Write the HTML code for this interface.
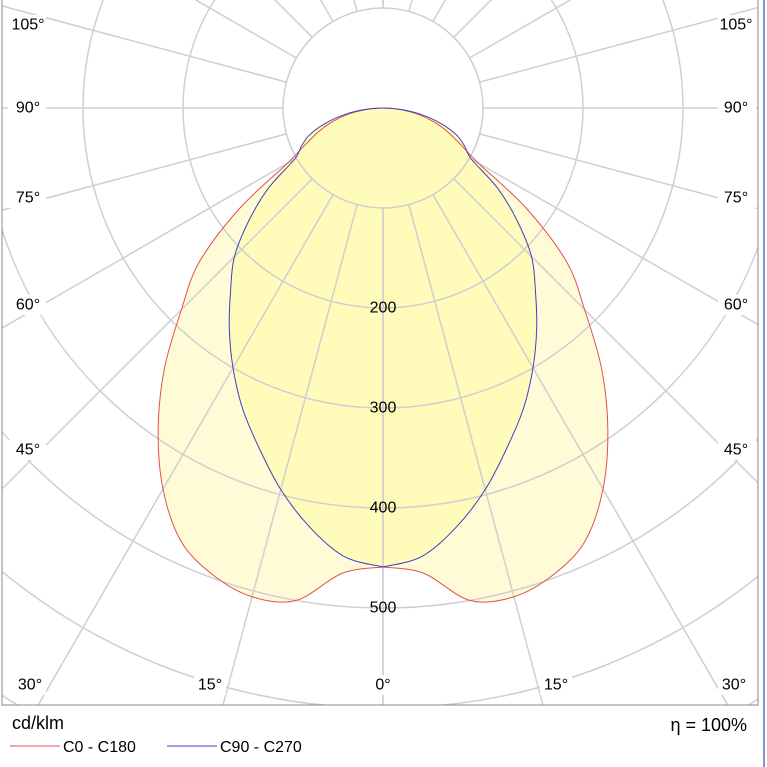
<!DOCTYPE html>
<html><head><meta charset="utf-8"><style>
html,body{margin:0;padding:0;background:#fff;font-family:"Liberation Sans",sans-serif;width:767px;height:767px;overflow:hidden;}
svg{display:block;}
svg text{font-family:"Liberation Sans",sans-serif;}
</style></head><body>
<svg width="767" height="767" viewBox="0 0 767 767">
<defs><clipPath id="pc"><rect x="2" y="0" width="756" height="705"/></clipPath></defs>
<g id="fills" clip-path="url(#pc)"></g>
<g id="grid" clip-path="url(#pc)"></g>
<g id="lines" clip-path="url(#pc)"></g>
<g id="labels"></g>
<rect x="2" y="-2" width="756" height="707" fill="none" stroke="#888" stroke-width="1"/>
<line x1="764" y1="0" x2="764" y2="767" stroke="#5a6fc4" stroke-width="1.5"/>
<text x="12" y="729" font-size="18">cd/klm</text>
<text x="747" y="731" font-size="18" text-anchor="end">η = 100%</text>
<line x1="10" y1="746" x2="60" y2="746" stroke="#e05050" stroke-width="1"/>
<text x="63" y="752" font-size="16">C0 - C180</text>
<line x1="167" y1="746" x2="217" y2="746" stroke="#4040c0" stroke-width="1"/>
<text x="220" y="752" font-size="16">C90 - C270</text>
</svg>
<script>
const angles=[0,5,10,15,20,25,30,35,40,45,50,55,60,65,70,75,80,85,90];
const c0c180=[459,467,500,506,497,478,440,392,340,285,240,175,110,85,68,52,35,17,0];
const c90c270=[459,450,425,395,362,332,300,268,237,210,175,140,102,90,78,60,40,20,0];
const ringValues=[100,200,300,400,500,600,700,800];
const ringLabels=["200","300","400","500"];
const spokeAngles=[0,15,30,45,60,75,90,105,120,135,150,165,180];
const NS="http://www.w3.org/2000/svg";
const cx=383,cy=108;
function px(a,r,side){return cx+side*r*Math.sin(a*Math.PI/180);}
function py(a,r){return cy+r*Math.cos(a*Math.PI/180);}
function mk(t,attrs,parent){const e=document.createElementNS(NS,t);for(const k in attrs)e.setAttribute(k,attrs[k]);document.getElementById(parent).appendChild(e);return e;}
function pathFor(vals){
  let pts=[];
  for(let i=0;i<angles.length;i++)pts.push([px(angles[i],vals[i],1),py(angles[i],vals[i])]);
  for(let i=angles.length-2;i>=0;i--)pts.push([px(angles[i],vals[i],-1),py(angles[i],vals[i])]);
  let d="M"+pts[0][0]+","+pts[0][1];
  for(let i=0;i<pts.length-1;i++){
    const p0=pts[Math.max(0,i-1)],p1=pts[i],p2=pts[i+1],p3=pts[Math.min(pts.length-1,i+2)];
    const c1=[p1[0]+(p2[0]-p0[0])/6,p1[1]+(p2[1]-p0[1])/6];
    const c2=[p2[0]-(p3[0]-p1[0])/6,p2[1]-(p3[1]-p1[1])/6];
    d+=" C"+c1[0]+","+c1[1]+" "+c2[0]+","+c2[1]+" "+p2[0]+","+p2[1];
  }
  return d+"Z";
}
let f1=mk("path",{d:pathFor(c0c180),fill:"#fffbd6",stroke:"none"},"fills");


let f2=mk("path",{d:pathFor(c90c270),fill:"#fffbb8",stroke:"none","fill-opacity":"0.9"},"fills");


ringValues.forEach(r=>{
  let c=mk("circle",{cx:cx,cy:cy,r:r,fill:"none",stroke:"#cfcfcf","stroke-width":"1.5"},"grid");
  
  
});
spokeAngles.forEach(a=>{[1,-1].forEach(s=>{
  let l=mk("line",{x1:px(a,100,s),y1:py(a,100),x2:px(a,1200,s),y2:py(a,1200),stroke:"#cfcfcf","stroke-width":"1.5"},"grid");
  
  
});});
let l1=mk("path",{d:pathFor(c0c180),fill:"none",stroke:"#e05050","stroke-width":"1"},"lines");


let l2=mk("path",{d:pathFor(c90c270),fill:"none",stroke:"#4040c0","stroke-width":"1"},"lines");


function label(x,y,t,name){
  let e=mk("text",{x:x,y:y,"font-size":"16","text-anchor":"middle","dominant-baseline":"central"},"labels");
  e.textContent=t;
  
  
}
ringLabels.forEach(v=>{
  label(cx,cy+(+v),v,'ring-label-'+v);
});
const sideLabels=[["105°",25],["90°",108],["75°",198],["60°",305],["45°",450]];
sideLabels.forEach(s=>{
  let b1=mk("rect",{x:8,y:s[1]-10,width:38,height:20,fill:"#fff"},"labels");
  
  
  let b2=mk("rect",{x:718,y:s[1]-10,width:38,height:20,fill:"#fff"},"labels");
  
  
  label(28,s[1],s[0],'angle-label-left-'+s[0]);
  label(736,s[1],s[0],'angle-label-right-'+s[0]);
});
const bottomLabels=[["30°",30],["15°",210],["0°",383],["15°",556],["30°",734]];
bottomLabels.forEach(s=>{
  let bg=mk("rect",{x:s[1]-16,y:675,width:32,height:20,fill:"#fff"},"labels");
  
  
  label(s[1],685,s[0],'angle-label-bottom-'+s[0]);
});
</script>
</body></html>
